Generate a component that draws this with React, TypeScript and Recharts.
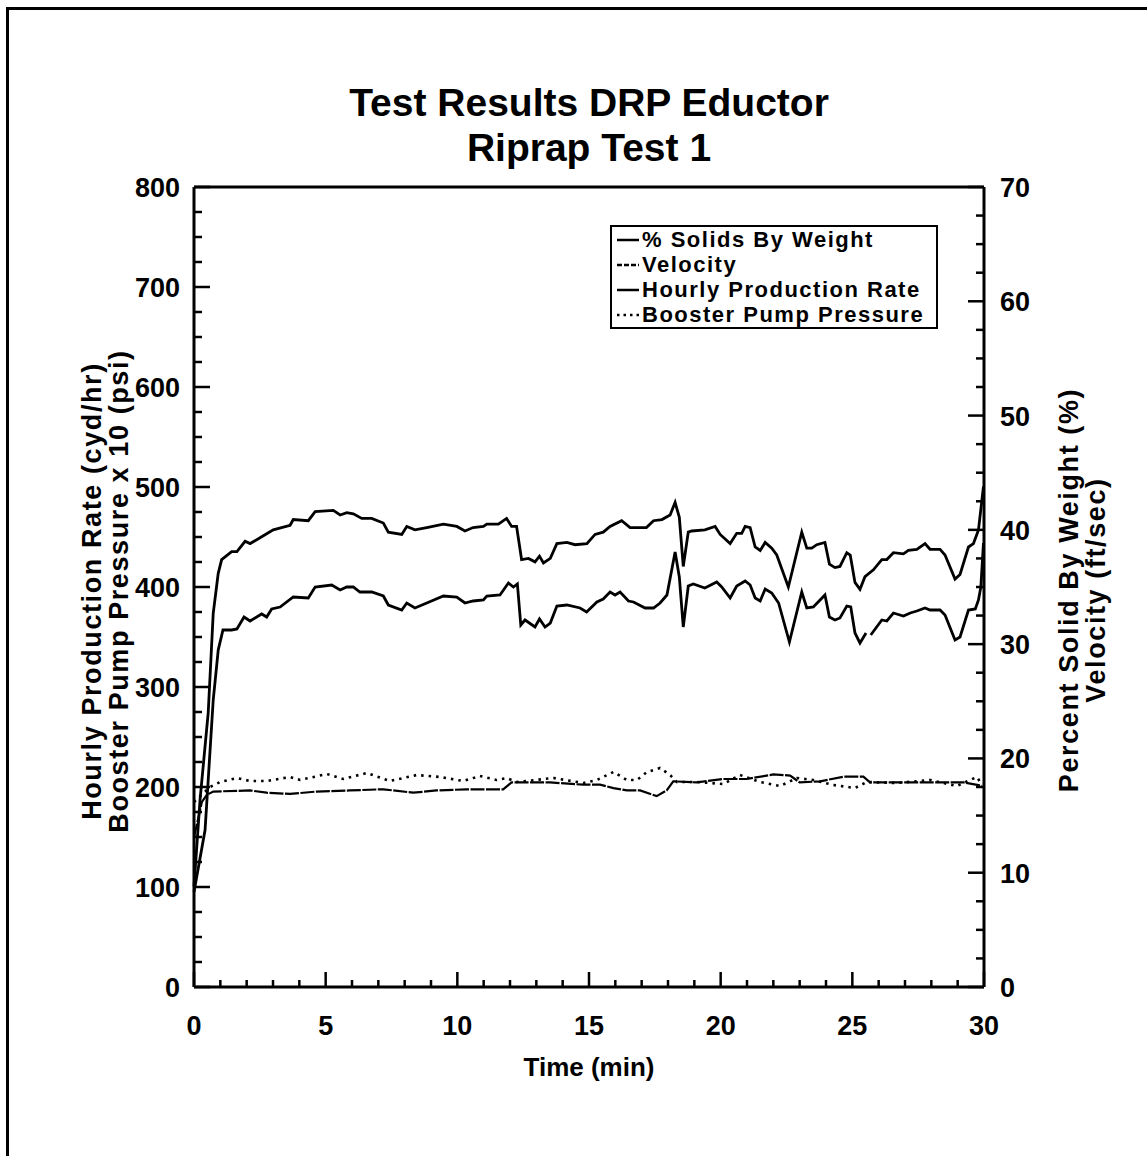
import { LineChart, Line, XAxis, YAxis, ReferenceLine, Legend } from 'recharts'

// % solids by weight (right axis, %)
const solidsTime = [0, 0.23, 0.54, 0.73, 0.92, 1.05, 1.43, 1.63, 1.94, 2.13, 2.57, 3.01, 3.65, 3.77, 4.34, 4.6, 5.29, 5.55, 5.8, 6.05, 6.37, 6.75, 7.19, 7.38, 7.89, 8.08, 8.39, 8.84, 9.47, 9.98, 10.29, 10.6, 10.99, 11.12, 11.56, 11.87, 12.06, 12.25, 12.44, 12.7, 12.95, 13.12, 13.27, 13.53, 13.78, 14.16, 14.47, 14.92, 15.23, 15.54, 15.8, 16.24, 16.56, 17.18, 17.45, 17.77, 18.08, 18.27, 18.43, 18.58, 18.77, 18.9, 19.4, 19.79, 19.98, 20.36, 20.61, 20.8, 20.93, 21.12, 21.31, 21.5, 21.69, 21.94, 22.13, 22.57, 23.08, 23.27, 23.46, 23.65, 23.96, 24.13, 24.34, 24.53, 24.79, 24.92, 25.1, 25.29, 25.48, 25.8, 26.12, 26.31, 26.56, 26.94, 27.13, 27.45, 27.76, 27.95, 28.33, 28.52, 28.9, 29.09, 29.41, 29.6, 29.79, 29.98]
const solidsPct = [8.8, 16.4, 24.0, 32.7, 36.2, 37.4, 38.1, 38.1, 39.0, 38.8, 39.4, 40.0, 40.4, 40.9, 40.8, 41.6, 41.7, 41.3, 41.5, 41.4, 41.0, 41.0, 40.6, 39.8, 39.6, 40.3, 40.0, 40.2, 40.5, 40.3, 39.9, 40.2, 40.3, 40.5, 40.5, 41.0, 40.3, 40.3, 37.4, 37.5, 37.2, 37.7, 37.1, 37.5, 38.8, 38.9, 38.7, 38.8, 39.6, 39.8, 40.3, 40.8, 40.2, 40.2, 40.8, 40.9, 41.3, 42.4, 41.1, 36.8, 39.8, 39.9, 40.0, 40.3, 39.6, 38.8, 39.7, 39.7, 40.3, 40.2, 38.5, 38.2, 38.9, 38.4, 37.8, 35.0, 39.8, 38.4, 38.4, 38.7, 38.9, 37.0, 36.7, 36.8, 38.0, 37.8, 35.4, 34.8, 35.9, 36.5, 37.4, 37.4, 38.0, 37.9, 38.2, 38.3, 38.8, 38.3, 38.3, 37.8, 35.7, 36.1, 38.5, 38.8, 40.0, 43.8]

// velocity (right axis, ft/sec)
const velocityTime = [0, 0.3, 0.48, 0.73, 2.13, 2.76, 3.65, 4.66, 5.92, 7.19, 8.33, 9.21, 10.35, 11.74, 12.06, 13.52, 14.79, 15.42, 15.93, 16.44, 16.94, 17.57, 17.95, 18.2, 19.09, 20.1, 20.99, 22.0, 22.64, 23.0, 23.78, 24.66, 25.42, 25.67, 26.69, 27.96, 29.23, 29.93]
const velocityFps = [13.1, 16.2, 16.8, 17.1, 17.2, 17.0, 16.9, 17.1, 17.2, 17.3, 17.0, 17.2, 17.3, 17.3, 17.9, 17.9, 17.7, 17.7, 17.4, 17.2, 17.2, 16.7, 17.2, 18.0, 17.9, 18.2, 18.2, 18.6, 18.5, 17.9, 18.0, 18.4, 18.4, 17.9, 17.9, 17.9, 17.9, 17.6]

// hourly production rate (left axis, cyd/hr)
const hourlyTime = [0, 0.42, 0.73, 0.92, 1.1, 1.43, 1.63, 1.9, 2.13, 2.57, 2.76, 2.95, 3.27, 3.77, 4.34, 4.6, 5.23, 5.55, 5.8, 6.05, 6.3, 6.75, 7.19, 7.38, 7.89, 8.08, 8.39, 8.84, 9.47, 9.98, 10.29, 10.6, 10.99, 11.12, 11.62, 11.94, 12.13, 12.28, 12.41, 12.57, 12.95, 13.12, 13.33, 13.53, 13.78, 14.16, 14.66, 14.91, 15.3, 15.54, 15.8, 15.99, 16.18, 16.5, 16.69, 17.13, 17.45, 17.7, 17.96, 18.27, 18.43, 18.58, 18.77, 18.96, 19.4, 19.85, 20.04, 20.36, 20.61, 20.93, 21.12, 21.31, 21.5, 21.69, 21.94, 22.2, 22.61, 23.08, 23.27, 23.52, 23.96, 24.13, 24.34, 24.53, 24.79, 24.94, 25.1, 25.29, 25.52, 25.6, 25.7, 26.12, 26.31, 26.56, 26.94, 27.2, 27.45, 27.76, 27.95, 28.33, 28.52, 28.9, 29.09, 29.41, 29.67, 29.79, 29.88, 29.98]
const hourlyRate = [95, 157, 287, 337, 357, 357, 358, 370, 366, 373, 370, 378, 380, 390, 389, 400, 402, 397, 400, 400, 395, 395, 391, 382, 377, 384, 379, 384, 391, 390, 384, 386, 387, 391, 392, 404, 400, 403, 362, 367, 360, 368, 360, 364, 381, 382, 379, 375, 385, 388, 395, 392, 395, 386, 385, 379, 379, 384, 392, 435, 410, 360, 401, 403, 399, 405, 400, 389, 401, 406, 402, 389, 386, 398, 394, 384, 345, 395, 379, 380, 392, 370, 367, 369, 381, 380, 354, 344, 354, null, 352, 367, 366, 374, 371, 374, 376, 379, 377, 377, 372, 347, 350, 377, 378, 387, 400, 444]

// booster pump pressure x 10 (left axis, psi)
const boosterTime = [0, 0.61, 0.99, 1.62, 2.13, 2.76, 3.65, 4.03, 5.04, 5.67, 6.56, 7.44, 8.46, 9.34, 10.22, 10.86, 11.49, 11.87, 12.25, 13.65, 14.79, 15.3, 15.93, 16.44, 16.82, 17.2, 17.7, 18.08, 18.33, 19.09, 20.1, 20.73, 21.5, 22.26, 22.9, 23.52, 24.28, 25.1, 25.55, 26.69, 27.96, 28.97, 29.73, 29.93]
const boosterPsi10 = [185, 200, 205, 209, 206, 206, 210, 207, 213, 208, 214, 206, 212, 210, 206, 211, 207, 209, 205, 209, 204, 207, 215, 207, 207, 215, 219, 212, 205, 205, 203, 212, 205, 201, 209, 207, 202, 199, 205, 204, 207, 201, 210, 202]

const seriesNames = ['% Solids By Weight', 'Velocity', 'Hourly Production Rate', 'Booster Pump Pressure']

const xTicks = Array.from({ length: 31 }, (_, i) => i)
const leftTicks = Array.from({ length: 33 }, (_, i) => i * 25)
const rightTicks = Array.from({ length: 29 }, (_, i) => i * 2.5)

const zip = (ts: number[], vs: (number | null)[]) => ts.map((t, i) => ({ t, v: vs[i] }))

const FONT = '"Liberation Sans", Arial, Helvetica, sans-serif'
const tickStyle = { fontFamily: FONT, fontWeight: 700, fontSize: 27, fill: '#000' }

const dashes: Record<string, string | undefined> = {
  '% Solids By Weight': undefined,
  'Velocity': '5 2',
  'Hourly Production Rate': undefined,
  'Booster Pump Pressure': '2.5 4',
}

const LeftTick = (p: any) => {
  const v = p.payload.value
  const major = v % 100 === 0
  const ax = p.x + 14
  return (
    <g>
      <line x1={ax} x2={ax + (major ? 16 : 8)} y1={p.y} y2={p.y} stroke="#000" strokeWidth={2.5} />
      {major && <text x={p.x} y={p.y} dy={10} textAnchor="end" style={tickStyle}>{v}</text>}
    </g>
  )
}

const RightTick = (p: any) => {
  const v = p.payload.value
  const major = Math.abs(v % 10) < 0.001
  const ax = p.x - 16
  return (
    <g>
      <line x1={ax} x2={ax - (major ? 16 : 8)} y1={p.y} y2={p.y} stroke="#000" strokeWidth={2.5} />
      {major && <text x={p.x} y={p.y} dy={10} textAnchor="start" style={tickStyle}>{v}</text>}
    </g>
  )
}

const BottomTick = (p: any) => {
  const v = p.payload.value
  const major = v % 5 === 0
  const ay = p.y - 12
  return (
    <g>
      <line x1={p.x} x2={p.x} y1={ay} y2={ay - (major ? 15 : 7)} stroke="#000" strokeWidth={2.5} />
      {major && <text x={p.x} y={p.y} dy={36} textAnchor="middle" style={tickStyle}>{v}</text>}
    </g>
  )
}

const LegendBox = (props: any) => {
  const items = [...(props.payload || [])].sort(
    (a: any, b: any) => seriesNames.indexOf(a.value) - seriesNames.indexOf(b.value))
  return (
    <div style={{ border: '2.5px solid #000', background: '#fff', padding: '0px 12px 0px 4px', fontFamily: FONT, fontWeight: 700, fontSize: 22, letterSpacing: 1.5, lineHeight: '25px', whiteSpace: 'nowrap' }}>
      {items.map((e: any) => (
        <div key={e.value} style={{ display: 'flex', alignItems: 'center', height: 25 }}>
          <svg width={24} height={10} style={{ marginRight: 2 }}>
            <line x1={1} x2={23} y1={5} y2={5} stroke="#000" strokeWidth={2.5} strokeDasharray={dashes[e.value]} />
          </svg>
          <span>{e.value}</span>
        </div>
      ))}
    </div>
  )
}

const rotated = (left: number, top: number): React.CSSProperties => ({
  position: 'absolute', left, top, transform: 'translate(-50%, -50%) rotate(-90deg)',
  fontFamily: FONT, fontWeight: 700, fontSize: 27, letterSpacing: 1.6, lineHeight: '27px', textAlign: 'center', whiteSpace: 'nowrap',
})

export default function App() {
  return (
    <div style={{ position: 'absolute', left: 0, top: 0, width: 1147, height: 1156, overflow: 'hidden', background: '#fff' }}>
      <div style={{ position: 'absolute', left: 6, top: 7, width: 1200, height: 1200, borderLeft: '3px solid #000', borderTop: '3px solid #000' }} />
      <div style={{ position: 'absolute', left: 589, top: 80, transform: 'translateX(-50%)', fontFamily: FONT, fontWeight: 700, fontSize: 39, lineHeight: '45px', textAlign: 'center', whiteSpace: 'nowrap' }}>
        Test Results DRP Eductor<br />Riprap Test 1
      </div>
      <div style={rotated(106, 591)}>
        Hourly Production Rate (cyd/hr)<br />Booster Pump Pressure x 10 (psi)
      </div>
      <div style={rotated(1083, 590)}>
        Percent Solid By Weight (%)<br />Velocity (ft/sec)
      </div>
      <div style={{ position: 'absolute', left: 589, top: 1052, transform: 'translateX(-50%)', fontFamily: FONT, fontWeight: 700, fontSize: 26, whiteSpace: 'nowrap' }}>
        Time (min)
      </div>
      <div style={{ position: 'absolute', left: 0, top: 0 }}>
        <LineChart width={1147} height={1156} margin={{ top: 187, right: 0, bottom: 109, left: 0 }}>
          <XAxis dataKey="t" type="number" domain={[0, 30]} ticks={xTicks} interval={0} height={60}
            axisLine={{ stroke: '#000', strokeWidth: 3 }} tickLine={false} tickSize={0} tickMargin={12} tick={<BottomTick />} />
          <YAxis yAxisId="left" domain={[0, 800]} ticks={leftTicks} interval={0} width={194}
            axisLine={{ stroke: '#000', strokeWidth: 3 }} tickLine={false} tickSize={0} tickMargin={14} tick={<LeftTick />} />
          <YAxis yAxisId="right" orientation="right" domain={[0, 70]} ticks={rightTicks} interval={0} width={163}
            axisLine={{ stroke: '#000', strokeWidth: 3 }} tickLine={false} tickSize={0} tickMargin={16} tick={<RightTick />} />
          <ReferenceLine yAxisId="left" y={800} stroke="#000" strokeWidth={3} />
          <Line name={seriesNames[0]} data={zip(solidsTime, solidsPct)} dataKey="v" yAxisId="right" type="linear"
            stroke="#000" strokeWidth={2.8} dot={false} isAnimationActive={false} />
          <Line name={seriesNames[1]} data={zip(velocityTime, velocityFps)} dataKey="v" yAxisId="right" type="linear"
            stroke="#000" strokeWidth={2.2} strokeDasharray="14 1.5" dot={false} isAnimationActive={false} />
          <Line name={seriesNames[2]} data={zip(hourlyTime, hourlyRate)} dataKey="v" yAxisId="left" type="linear"
            stroke="#000" strokeWidth={2.8} dot={false} isAnimationActive={false} />
          <Line name={seriesNames[3]} data={zip(boosterTime, boosterPsi10)} dataKey="v" yAxisId="left" type="linear"
            stroke="#000" strokeWidth={2.6} strokeDasharray="2.5 5" dot={false} isAnimationActive={false} />
          <Legend layout="vertical" align="center" verticalAlign="middle" content={<LegendBox />}
            wrapperStyle={{ left: 610, top: 225, width: 'auto', height: 'auto' }} />
        </LineChart>
      </div>
    </div>
  )
}
